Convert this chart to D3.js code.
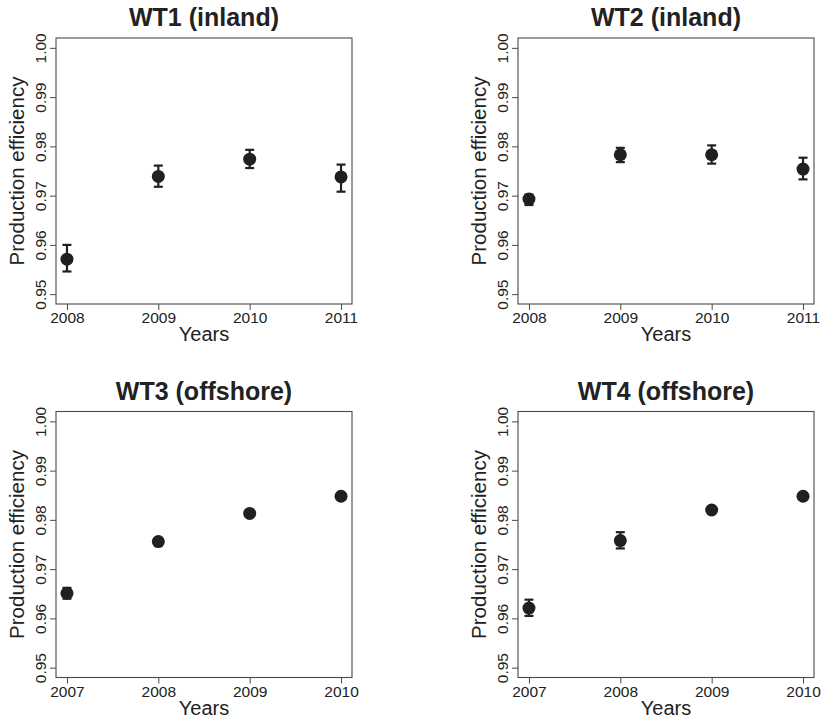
<!DOCTYPE html>
<html>
<head>
<meta charset="utf-8">
<script src="https://cdn.jsdelivr.net/npm/d3@7"></script>
<style>
  body { margin: 0; background: #fff; }
  svg text { font-family: "Liberation Sans", Arial, sans-serif; fill: #222; }
</style>
</head>
<body>
<svg id="chart" width="822" height="721"></svg>
<script>
// years on the x axis
const inlandYears = [2008, 2009, 2010, 2011];
const offshoreYears = [2007, 2008, 2009, 2010];
const yTicks = [0.95, 0.96, 0.97, 0.98, 0.99, 1.00];

// mean production efficiency and error bar ends
const wt1Mean = [0.9571, 0.9739, 0.9774, 0.9738];
const wt1Low = [0.9546, 0.9718, 0.9756, 0.9708];
const wt1High = [0.9600, 0.9761, 0.9793, 0.9763];

const wt2Mean = [0.9693, 0.9783, 0.9783, 0.9754];
const wt2Low = [0.9681, 0.9768, 0.9765, 0.9733];
const wt2High = [0.9702, 0.9797, 0.9802, 0.9777];

const wt3Mean = [0.9651, 0.9756, 0.9813, 0.9848];
const wt3Low = [0.9640, 0.9753, 0.9811, 0.9846];
const wt3High = [0.9662, 0.9759, 0.9815, 0.9850];

const wt4Mean = [0.9621, 0.9758, 0.9820, 0.9848];
const wt4Low = [0.9605, 0.9742, 0.9818, 0.9846];
const wt4High = [0.9638, 0.9775, 0.9822, 0.9850];

const panels = [
  { title: "WT1 (inland)", years: inlandYears, mean: wt1Mean, lo: wt1Low, hi: wt1High, left: 56, top: 38 },
  { title: "WT2 (inland)", years: inlandYears, mean: wt2Mean, lo: wt2Low, hi: wt2High, left: 518, top: 38 },
  { title: "WT3 (offshore)", years: offshoreYears, mean: wt3Mean, lo: wt3Low, hi: wt3High, left: 56, top: 411.5 },
  { title: "WT4 (offshore)", years: offshoreYears, mean: wt4Mean, lo: wt4Low, hi: wt4High, left: 518, top: 411.5 }
];

const W = 296, H = 266;
const ink = "#231f20", frame = "#4a4a4a";
const svg = d3.select("#chart");

panels.forEach(p => {
  const g = svg.append("g").attr("transform", `translate(${p.left},${p.top})`);
  // R style 4% padding on each side
  const x = d3.scaleLinear().domain([p.years[0] - 0.12, p.years[3] + 0.12]).range([0, W]);
  const y = d3.scaleLinear().domain([0.948, 1.002]).range([H, 0]);

  const xAxis = d3.axisBottom(x).tickValues(p.years).tickFormat(d3.format("d")).tickSizeInner(6).tickSizeOuter(0);
  const yAxis = d3.axisLeft(y).tickValues(yTicks).tickFormat(d3.format(".2f")).tickSizeInner(6).tickSizeOuter(0);

  const gx = g.append("g").attr("transform", `translate(0,${H})`).call(xAxis);
  const gy = g.append("g").call(yAxis);
  [gx, gy].forEach(a => {
    a.select(".domain").remove();
    a.selectAll(".tick line").attr("stroke", frame);
    a.selectAll(".tick text").attr("fill", "#222").style("font-size", "15.5px")
      .style("font-family", "'Liberation Sans', Arial, sans-serif");
  });
  gx.selectAll(".tick text").attr("y", 19).attr("dy", 0);
  gy.selectAll(".tick text")
    .attr("transform", "rotate(-90)")
    .attr("text-anchor", "middle")
    .attr("x", 0).attr("y", -10.5).attr("dy", 0);

  g.append("rect").attr("width", W).attr("height", H)
    .attr("fill", "none").attr("stroke", frame).attr("stroke-width", 1.1);

  g.append("text").attr("x", W / 2).attr("y", -12)
    .attr("text-anchor", "middle").style("font-size", "25px").style("font-weight", "bold")
    .text(p.title);
  g.append("text").attr("x", W / 2).attr("y", H + 37)
    .attr("text-anchor", "middle").style("font-size", "20px").text("Years");
  g.append("text").attr("transform", `translate(-32,${H / 2}) rotate(-90)`)
    .attr("text-anchor", "middle").style("font-size", "20.5px").text("Production efficiency");

  const idx = d3.range(p.years.length);
  const bars = g.append("g").attr("stroke", ink).attr("stroke-width", 2.2);
  bars.selectAll(".stem").data(idx).join("line")
    .attr("x1", i => x(p.years[i])).attr("x2", i => x(p.years[i]))
    .attr("y1", i => y(p.lo[i])).attr("y2", i => y(p.hi[i]));
  bars.selectAll(".capHi").data(idx).join("line").attr("class", "capHi")
    .attr("x1", i => x(p.years[i]) - 4.5).attr("x2", i => x(p.years[i]) + 4.5)
    .attr("y1", i => y(p.hi[i])).attr("y2", i => y(p.hi[i]));
  bars.selectAll(".capLo").data(idx).join("line").attr("class", "capLo")
    .attr("x1", i => x(p.years[i]) - 4.5).attr("x2", i => x(p.years[i]) + 4.5)
    .attr("y1", i => y(p.lo[i])).attr("y2", i => y(p.lo[i]));

  g.append("g").selectAll("circle").data(idx).join("circle")
    .attr("cx", i => x(p.years[i])).attr("cy", i => y(p.mean[i]))
    .attr("r", 6.5).attr("fill", ink);
});
</script>
</body>
</html>
